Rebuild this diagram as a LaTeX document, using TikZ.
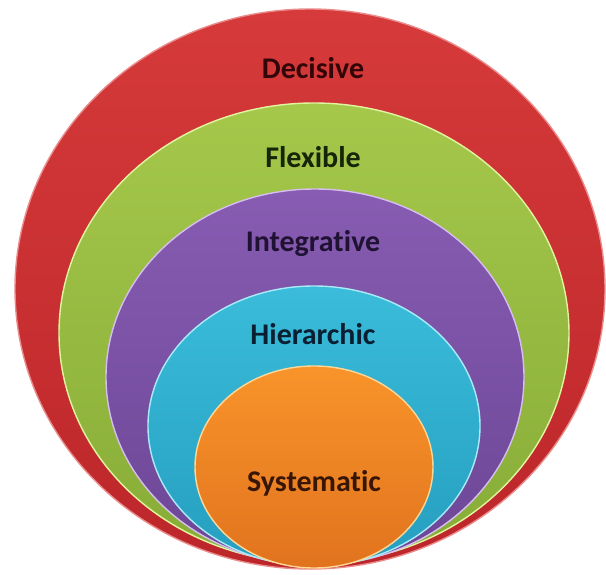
\documentclass[tikz,border=0pt]{standalone}
\usepackage{fontspec}
\setmainfont{Carlito}[Ligatures=NoCommon]
\begin{document}
\begin{tikzpicture}[x=1pt,y=-1pt]
  \definecolor{redT}{RGB}{214,58,58}
  \definecolor{redB}{RGB}{188,38,42}
  \definecolor{redE}{RGB}{235,140,140}
  \definecolor{redD}{RGB}{50,6,8}
  \definecolor{grnT}{RGB}{165,200,75}
  \definecolor{grnB}{RGB}{135,172,55}
  \definecolor{grnE}{RGB}{225,245,160}
  \definecolor{grnD}{RGB}{22,36,8}
  \definecolor{purT}{RGB}{135,92,178}
  \definecolor{purB}{RGB}{108,70,150}
  \definecolor{purE}{RGB}{215,190,240}
  \definecolor{purD}{RGB}{32,18,50}
  \definecolor{cyaT}{RGB}{58,188,218}
  \definecolor{cyaB}{RGB}{38,158,192}
  \definecolor{cyaE}{RGB}{170,235,250}
  \definecolor{cyaD}{RGB}{10,32,50}
  \definecolor{orgT}{RGB}{248,148,42}
  \definecolor{orgB}{RGB}{225,115,30}
  \definecolor{orgE}{RGB}{255,215,150}
  \definecolor{orgD}{RGB}{55,22,5}
  \tikzset{
    ring/.style={line width=1.4pt},
    lbl/.style={font=\bfseries\fontsize{30}{34}\selectfont, inner sep=0pt}
  }
  \useasboundingbox (0,0) rectangle (606,574);
  % nested discs, all touching near the bottom
  \shade[ring, top color=redT, bottom color=redB, draw=redE]
    (310,289) ellipse [x radius=295pt, y radius=280pt];
  \shade[ring, top color=grnT, bottom color=grnB, draw=grnE]
    (314,333) ellipse [x radius=255pt, y radius=230pt];
  \shade[ring, top color=purT, bottom color=purB, draw=purE]
    (315,377) ellipse [x radius=209pt, y radius=188pt];
  \shade[ring, top color=cyaT, bottom color=cyaB, draw=cyaE]
    (314,426) ellipse [x radius=166pt, y radius=140pt];
  \shade[ring, top color=orgT, bottom color=orgB, draw=orgE]
    (314,467) ellipse [x radius=119pt, y radius=101pt];
  % labels
  \node[lbl, text=redD] (decisive)    at (313,68)  {Decisive};
  \node[lbl, text=grnD] (flexible)    at (313,157) {Flexible};
  \node[lbl, text=purD] (integrative) at (313,244) {Integrative};
  \node[lbl, text=cyaD] (hierarchic)  at (313,334) {Hierarchic};
  \node[lbl, text=orgD] (systematic)  at (314,483) {Systematic};
\end{tikzpicture}
\end{document}
